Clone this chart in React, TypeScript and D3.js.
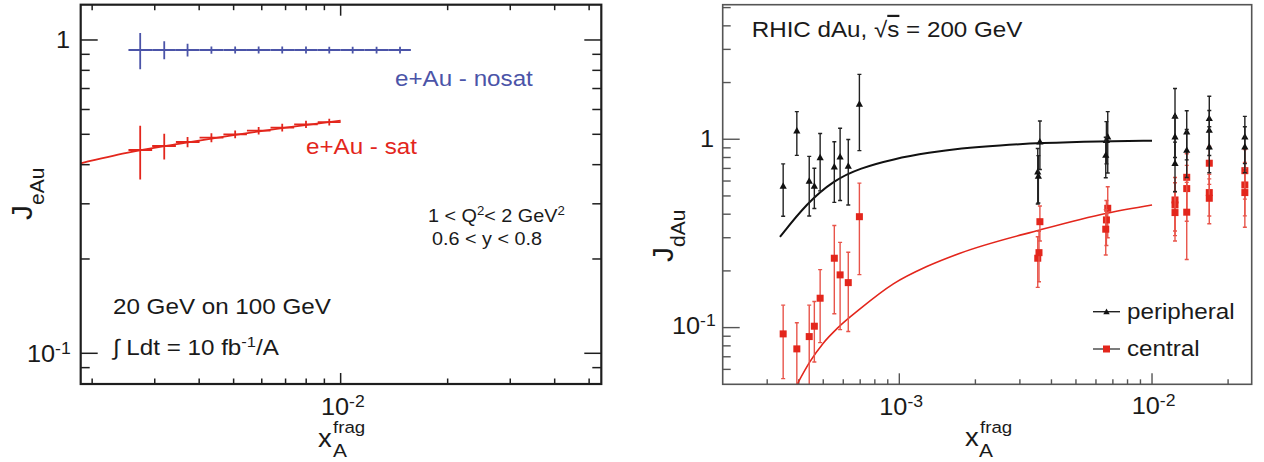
import React from 'react';
import * as d3 from 'd3';

// ---------------- Left panel: e+Au pseudo-data ----------------
const eAuX = [2.73e-3, 3.19e-3, 3.71e-3, 4.33e-3, 5.05e-3, 5.88e-3, 6.85e-3, 7.99e-3, 9.29e-3, 1.081e-2, 1.262e-2, 1.469e-2];
const eAuXLo = [2.53e-3, 2.95e-3, 3.44e-3, 4.01e-3, 4.68e-3, 5.45e-3, 6.35e-3, 7.40e-3, 8.62e-3, 1.0e-2, 1.168e-2, 1.361e-2];
const eAuXHi = [2.95e-3, 3.44e-3, 4.01e-3, 4.68e-3, 5.45e-3, 6.35e-3, 7.40e-3, 8.62e-3, 1.0e-2, 1.168e-2, 1.361e-2, 1.576e-2];
const nosatY = [0.929, 0.929, 0.929, 0.929, 0.929, 0.929, 0.929, 0.929, 0.929, 0.929, 0.929, 0.929];
const nosatErr = [0.123, 0.061, 0.043, 0.025, 0.024, 0.024, 0.024, 0.024, 0.023, 0.023, 0.023, 0.023];
const satY = [0.4455, 0.4588, 0.4725, 0.4879, 0.500, 0.5136, 0.525, 0.538, 0.547];
const satErr = [0.087, 0.043, 0.018, 0.016, 0.014, 0.014, 0.015, 0.014, 0.014];
const satCurveX = [1.857e-3, 2.5e-3, 3.5e-3, 5.0e-3, 7.0e-3, 1.0e-2];
const satCurveY = [0.404, 0.436, 0.466, 0.497, 0.525, 0.553];

// ---------------- Right panel: RHIC dAu ----------------
const periphX = [3.47e-4, 3.93e-4, 4.40e-4, 4.61e-4, 4.86e-4, 5.53e-4, 5.83e-4, 6.28e-4, 6.95e-4,
  3.6e-3, 3.53e-3, 3.55e-3, 6.68e-3, 6.6e-3, 6.56e-3,
  1.233e-2, 1.233e-2, 1.233e-2, 1.372e-2, 1.372e-2, 1.685e-2, 1.685e-2, 1.685e-2, 2.33e-2, 2.33e-2];
const periphY = [0.565, 1.111, 0.601, 0.565, 0.802, 0.716, 0.808, 0.722, 1.54,
  0.971, 0.673, 0.639, 1.032, 0.99, 0.825,
  1.33, 1.032, 0.746, 1.097, 0.877, 1.293, 1.12, 0.914, 1.032, 0.914];
const periphErr = [0.175, 0.29, 0.21, 0.136, 0.27, 0.254, 0.335, 0.274, 0.67,
  0.28, 0.22, 0.18, 0.37, 0.25, 0.2,
  0.53, 0.3, 0.22, 0.32, 0.25, 0.4, 0.3, 0.25, 0.29, 0.25];

const centralX = [3.47e-4, 3.93e-4, 4.40e-4, 4.61e-4, 4.86e-4, 5.53e-4, 5.83e-4, 6.28e-4, 6.95e-4,
  3.6e-3, 3.53e-3, 3.57e-3, 6.68e-3, 6.6e-3, 6.56e-3,
  1.233e-2, 1.233e-2, 1.233e-2, 1.372e-2, 1.372e-2, 1.372e-2, 1.685e-2, 1.685e-2, 1.685e-2, 2.33e-2, 2.33e-2, 2.33e-2];
const centralY = [0.0926, 0.0771, 0.0896, 0.1017, 0.1432, 0.2335, 0.1905, 0.1733, 0.388,
  0.365, 0.2335, 0.25, 0.43, 0.373, 0.333,
  0.476, 0.448, 0.408, 0.628, 0.547, 0.41, 0.746, 0.521, 0.486, 0.681, 0.572, 0.521];
const centralErr = [0.039, 0.029, 0.042, 0.036, 0.06, 0.115, 0.093, 0.078, 0.197,
  0.077, 0.07, 0.075, 0.13, 0.1, 0.09,
  0.15, 0.14, 0.12, 0.21, 0.18, 0.18, 0.17, 0.13, 0.13, 0.2, 0.18, 0.18];

const periphCurveX = [3.37e-4, 4.30e-4, 5.53e-4, 6.99e-4, 9.47e-4, 1.323e-3, 1.739e-3, 2.503e-3, 3.6e-3, 6.22e-3, 1.0e-2];
const periphCurveY = [0.303, 0.457, 0.608, 0.702, 0.786, 0.851, 0.894, 0.929, 0.956, 0.976, 0.982];
const centralCurveX = [3.94e-4, 4.43e-4, 5.0e-4, 5.72e-4, 6.99e-4, 9.47e-4, 1.284e-3, 1.739e-3, 3.6e-3, 6.62e-3, 1.0e-2];
const centralCurveY = [0.05, 0.066, 0.0827, 0.1, 0.1257, 0.1706, 0.2108, 0.2482, 0.330, 0.405, 0.448];

// ---------------- ticks ----------------
const leftXMajor = [1e-2];
const leftXMinor = [2e-3, 3e-3, 4e-3, 5e-3, 6e-3, 7e-3, 8e-3, 9e-3, 2e-2, 3e-2, 4e-2, 5e-2];
const leftYMajor = [0.1, 1];
const leftYMinor = [0.09, 0.2, 0.3, 0.4, 0.5, 0.6, 0.7, 0.8, 0.9];
const rightXMajor = [1e-3, 1e-2];
const rightXMinor = [3e-4, 4e-4, 5e-4, 6e-4, 7e-4, 8e-4, 9e-4, 2e-3, 3e-3, 4e-3, 5e-3, 6e-3, 7e-3, 8e-3, 9e-3, 2e-2];
const rightYMajor = [0.1, 1];
const rightYMinor = [0.06, 0.07, 0.08, 0.09, 0.2, 0.3, 0.4, 0.5, 0.6, 0.7, 0.8, 0.9, 2, 3, 4, 5];

const FONT = "'Liberation Sans', Arial, Helvetica, sans-serif";
const SX = 1.1;
const BLUE = '#4b54a8';
const RED = '#e3261c';
const RED_BAR = '#e8544a';

function T(props: { x: number; y: number; size: number; anchor?: string; fill?: string; children: any }) {
  const { x, y, size, anchor = 'start', fill = '#1a1a1a', children } = props;
  return (
    <text transform={`translate(${x},${y}) scale(${SX},1)`} fontSize={size} textAnchor={anchor as any}
      fill={fill} fontFamily={FONT}>{children}</text>
  );
}

function Pow(props: { x: number; y: number; exp: string; anchor?: string }) {
  return (
    <T x={props.x} y={props.y} size={23} anchor={props.anchor}>
      10<tspan fontSize={16} dy={-8}>{props.exp}</tspan>
    </T>
  );
}

export default function App() {
  const L = { x0: 80.7, x1: 601.3, y0: 4.7, y1: 384 };
  const lx = d3.scaleLog().domain([1.857e-3, 5.41e-2]).range([L.x0, L.x1]);
  const ly = d3.scaleLog().domain([0.0798, 1.296]).range([L.y1, L.y0]);

  const R = { x0: 722.7, x1: 1251.7, y0: 4.7, y1: 384.3 };
  const rx = d3.scaleLog().domain([2.0e-4, 2.48e-2]).range([R.x0, R.x1]);
  const ry = d3.scaleLog().domain([0.05, 5.18]).range([R.y1, R.y0]);

  const satLine = d3.line<number>().x((d, i) => lx(satCurveX[i])).y((d, i) => ly(satCurveY[i])).curve(d3.curveMonotoneX);
  const perLine = d3.line<number>().x((d, i) => rx(periphCurveX[i])).y((d, i) => ry(periphCurveY[i])).curve(d3.curveBasis);
  const cenLine = d3.line<number>().x((d, i) => rx(centralCurveX[i])).y((d, i) => ry(centralCurveY[i])).curve(d3.curveMonotoneX);

  const frameL = '#1e1e1e';
  const frameR = '#555';

  const tri = (cx: number, cy: number, s = 3.6) => `M${cx},${cy - s}L${cx + s},${cy + s * 0.8}L${cx - s},${cy + s * 0.8}Z`;
  const capW = 2;

  return (
    <svg width={1264} height={462} style={{ position: 'absolute', left: 0, top: 0, background: '#fff' }}>
      <defs>
        <clipPath id="clipR"><rect x={R.x0} y={R.y0} width={R.x1 - R.x0} height={R.y1 - R.y0} /></clipPath>
        <clipPath id="clipL"><rect x={L.x0} y={L.y0} width={L.x1 - L.x0} height={L.y1 - L.y0} /></clipPath>
      </defs>
      <rect x={0} y={0} width={1264} height={462} fill="#fff" />

      {/* ================= LEFT PANEL ================= */}
      <g>
        {leftXMinor.map((v, i) => (
          <g key={'lxm' + i} stroke={frameL} strokeWidth={1.5}>
            <line x1={lx(v)} x2={lx(v)} y1={L.y1} y2={L.y1 - 5.5} />
            <line x1={lx(v)} x2={lx(v)} y1={L.y0} y2={L.y0 + 5.5} />
          </g>
        ))}
        {leftXMajor.map((v, i) => (
          <g key={'lxM' + i} stroke={frameL} strokeWidth={1.5}>
            <line x1={lx(v)} x2={lx(v)} y1={L.y1} y2={L.y1 - 11} />
            <line x1={lx(v)} x2={lx(v)} y1={L.y0} y2={L.y0 + 11} />
          </g>
        ))}
        {leftYMinor.map((v, i) => (
          <g key={'lym' + i} stroke={frameL} strokeWidth={1.5}>
            <line x1={L.x0} x2={L.x0 + 9} y1={ly(v)} y2={ly(v)} />
            <line x1={L.x1} x2={L.x1 - 9} y1={ly(v)} y2={ly(v)} />
          </g>
        ))}
        {leftYMajor.map((v, i) => (
          <g key={'lyM' + i} stroke={frameL} strokeWidth={1.5}>
            <line x1={L.x0} x2={L.x0 + 17} y1={ly(v)} y2={ly(v)} />
            <line x1={L.x1} x2={L.x1 - 17} y1={ly(v)} y2={ly(v)} />
          </g>
        ))}

        <g clipPath="url(#clipL)">
          {eAuX.map((x, i) => (
            <g key={'ns' + i} stroke={BLUE} strokeWidth={1.8}>
              <line x1={lx(eAuXLo[i])} x2={lx(eAuXHi[i])} y1={ly(nosatY[i])} y2={ly(nosatY[i])} />
              <line x1={lx(x)} x2={lx(x)} y1={ly(nosatY[i] + nosatErr[i])} y2={ly(nosatY[i] - nosatErr[i])} />
            </g>
          ))}
          <path d={satLine(satCurveX) || ''} fill="none" stroke={RED} strokeWidth={1.8} />
          {satY.map((y, i) => (
            <g key={'s' + i} stroke={RED} strokeWidth={1.8}>
              <line x1={lx(eAuXLo[i])} x2={lx(eAuXHi[i])} y1={ly(y)} y2={ly(y)} />
              <line x1={lx(eAuX[i])} x2={lx(eAuX[i])} y1={ly(y + satErr[i])} y2={ly(y - satErr[i])} />
            </g>
          ))}
        </g>

        <rect x={L.x0} y={L.y0} width={L.x1 - L.x0} height={L.y1 - L.y0} fill="none" stroke={frameL} strokeWidth={2.2} />

        <T x={395} y={86} size={22} fill={BLUE}>e+Au - nosat</T>
        <T x={306} y={154} size={22} fill={RED}>e+Au - sat</T>
        <T x={428} y={222} size={18}>1 &lt; Q<tspan fontSize={12} dy={-7}>2</tspan><tspan dy={7}>&lt; 2 GeV</tspan><tspan fontSize={12} dy={-7}>2</tspan></T>
        <T x={432} y={245} size={18}>0.6 &lt; y &lt; 0.8</T>
        <T x={113} y={314} size={22}>20 GeV on 100 GeV</T>
        <T x={113} y={355} size={22}>∫ Ldt = 10 fb<tspan fontSize={15} dy={-8}>-1</tspan><tspan dy={8}>/A</tspan></T>

        <T x={70} y={48} size={23} anchor="end">1</T>
        <Pow x={70.7} y={362} exp="-1" anchor="end" />
        <Pow x={321} y={415} exp="-2" />

        <T x={318} y={446.7} size={25}>x</T>
        <T x={333} y={433} size={17}>frag</T>
        <T x={333} y={457} size={19}>A</T>
        <text transform="translate(32,220) rotate(-90)" fontFamily={FONT} fill="#1a1a1a" fontSize={30}>
          J<tspan fontSize={21} dy={12}>eAu</tspan>
        </text>
      </g>

      {/* ================= RIGHT PANEL ================= */}
      <g>
        {rightXMinor.map((v, i) => (
          <line key={'rxm' + i} x1={rx(v)} x2={rx(v)} y1={R.y1} y2={R.y1 - 5} stroke={frameR} strokeWidth={1.4} />
        ))}
        {rightXMajor.map((v, i) => (
          <line key={'rxM' + i} x1={rx(v)} x2={rx(v)} y1={R.y1} y2={R.y1 - 11} stroke={frameR} strokeWidth={1.4} />
        ))}
        {rightYMinor.map((v, i) => (
          <line key={'rym' + i} x1={R.x0} x2={R.x0 + 8} y1={ry(v)} y2={ry(v)} stroke={frameR} strokeWidth={1.4} />
        ))}
        {rightYMajor.map((v, i) => (
          <line key={'ryM' + i} x1={R.x0} x2={R.x0 + 17} y1={ry(v)} y2={ry(v)} stroke={frameR} strokeWidth={1.4} />
        ))}

        <g clipPath="url(#clipR)">
          <path d={perLine(periphCurveX) || ''} fill="none" stroke="#111" strokeWidth={2} />
          <path d={cenLine(centralCurveX) || ''} fill="none" stroke={RED} strokeWidth={1.6} />

          {centralX.map((x, i) => {
            const cx = rx(x);
            const yt = ry(centralY[i] + centralErr[i]);
            const yb = ry(Math.max(centralY[i] - centralErr[i], 1e-3));
            return (
              <g key={'c' + i}>
                <g stroke={RED_BAR} strokeWidth={1.4}>
                  <line x1={cx} x2={cx} y1={yt} y2={yb} />
                  <line x1={cx - capW} x2={cx + capW} y1={yt} y2={yt} />
                  <line x1={cx - capW} x2={cx + capW} y1={yb} y2={yb} />
                </g>
                <rect x={cx - 3.5} y={ry(centralY[i]) - 3.5} width={7} height={7} fill={RED} />
              </g>
            );
          })}
          {periphX.map((x, i) => {
            const cx = rx(x);
            const yt = ry(periphY[i] + periphErr[i]);
            const yb = ry(periphY[i] - periphErr[i]);
            return (
              <g key={'p' + i}>
                <g stroke="#222" strokeWidth={1.4}>
                  <line x1={cx} x2={cx} y1={yt} y2={yb} />
                  <line x1={cx - capW} x2={cx + capW} y1={yt} y2={yt} />
                  <line x1={cx - capW} x2={cx + capW} y1={yb} y2={yb} />
                </g>
                <path d={tri(cx, ry(periphY[i]))} fill="#111" />
              </g>
            );
          })}
        </g>

        <rect x={R.x0} y={R.y0} width={R.x1 - R.x0} height={R.y1 - R.y0} fill="none" stroke={frameR} strokeWidth={1.6} />

        <line x1={1093} x2={1120} y1={311.7} y2={311.7} stroke="#222" strokeWidth={1.4} />
        <path d={tri(1106.5, 311.7, 3.2)} fill="#111" />
        <T x={1127} y={318.5} size={22}>peripheral</T>
        <line x1={1093} x2={1120} y1={349} y2={349} stroke="#444" strokeWidth={1.4} />
        <rect x={1103} y={345.5} width={7} height={7} fill={RED} />
        <T x={1127} y={356} size={22}>central</T>

        <T x={751.7} y={36.7} size={22}>RHIC dAu, √<tspan style={{ textDecoration: 'overline' }}>s</tspan> = 200 GeV</T>

        <T x={714} y={147} size={23} anchor="end">1</T>
        <Pow x={715.7} y={334.3} exp="-1" anchor="end" />
        <Pow x={879.3} y={415} exp="-3" />
        <Pow x={1131.7} y={414.3} exp="-2" />

        <T x={965} y={445.7} size={25}>x</T>
        <T x={980} y={433} size={17}>frag</T>
        <T x={979} y={456.7} size={19}>A</T>
        <text transform="translate(673,262) rotate(-90)" fontFamily={FONT} fill="#1a1a1a" fontSize={30}>
          J<tspan fontSize={21} dy={12}>dAu</tspan>
        </text>
      </g>
    </svg>
  );
}
